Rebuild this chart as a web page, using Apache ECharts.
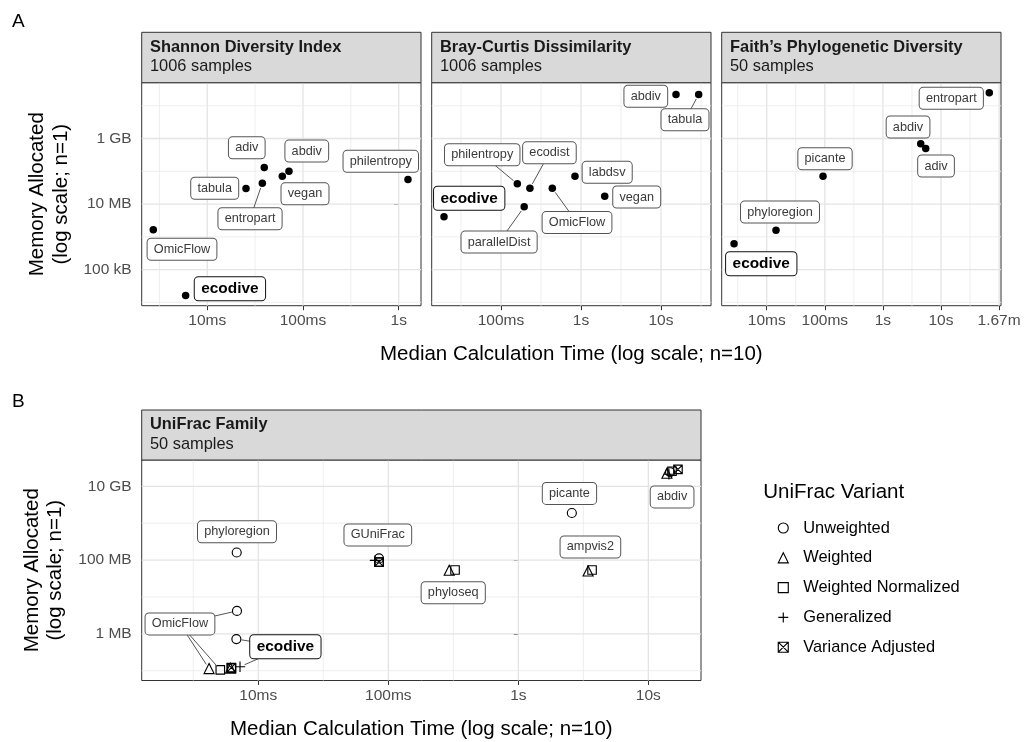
<!DOCTYPE html>
<html><head><meta charset="utf-8">
<script src="https://cdn.jsdelivr.net/npm/echarts@6/dist/echarts.min.js"></script>
<style>html,body{margin:0;padding:0;background:#fff}#c{width:1024px;height:742px}</style>
</head><body><div id="c"></div>
<script>
// ---------------- DATA (time in seconds, memory in bytes) ----------------
const shannonTools    = ['OmicFlow','ecodive','tabula','entropart','adiv','vegan','abdiv','philentropy'];
const shannonTimeSec  = [0.00273, 0.00594, 0.0254, 0.0376, 0.0394, 0.0608, 0.0714, 1.25];
const shannonMemBytes = [1.63e6, 1.61e4, 2.97e7, 4.32e7, 1.30e8, 7.06e7, 1.00e8, 5.60e7];

const brayTools    = ['abdiv','tabula','philentropy','ecodist','OmicFlow','labdsv','vegan','parallelDist','ecodive'];
const brayTimeSec  = [15.4, 29.6, 0.160, 0.230, 0.438, 0.841, 1.98, 0.195, 0.0194];
const brayMemBytes = [2.20e10, 2.20e10, 4.14e7, 3.03e7, 3.03e7, 7.06e7, 1.73e7, 8.20e6, 4.06e6];

const faithTools    = ['entropart','abdiv','adiv','picante','phyloregion','ecodive'];
const faithTimeSec  = [67.8, 4.48, 5.46, 0.0931, 0.01445, 0.00274];
const faithMemBytes = [2.48e10, 6.89e8, 4.95e8, 7.06e7, 1.58e6, 6.10e5];

const uniTools = ['phyloregion','OmicFlow','ecodive','GUniFrac','phyloseq','picante','ampvis2','abdiv'];
const unwTime = [0.00682, 0.00685, 0.00678, 0.0848, null, 2.58, null, 14.7];
const unwMem  = [1.61e8, 4.18e6, 7.21e5, 1.11e8, null, 1.89e9, null, 2.42e10];
const wTime   = [null, 0.00418, 0.00611, null, 0.294, null, 3.44, 13.9];
const wMem    = [null, 1.14e5, 1.17e5, null, 5.30e7, null, 5.07e7, 2.27e10];
const wnTime  = [null, 0.00510, 0.00622, 0.0848, 0.326, null, 3.69, 15.2];
const wnMem   = [null, 1.05e5, 1.17e5, 8.80e7, 5.40e7, null, 5.40e7, 2.57e10];
const genTime = [null, null, 0.00723, 0.0791, null, null, null, 14.4];
const genMem  = [null, null, 1.28e5, 9.80e7, null, null, null, 2.13e10];
const vaTime  = [null, null, 0.00620, 0.0848, null, null, null, 16.9];
const vaMem   = [null, null, 1.21e5, 8.80e7, null, null, null, 2.90e10];

const variantNames = ['Unweighted','Weighted','Weighted Normalized','Generalized','Variance Adjusted'];

const panelTitles    = ['Shannon Diversity Index','Bray-Curtis Dissimilarity','Faith\u2019s Phylogenetic Diversity','UniFrac Family'];
const panelSubtitles = ['1006 samples','1006 samples','50 samples','50 samples'];

const timeTickValues = [0.01, 0.1, 1, 10, 100];
const timeTickLabels = ['10ms','100ms','1s','10s','1.67m'];
const memTickValues  = [1e5, 1e6, 1e7, 1e8, 1e9, 1e10];
const memTickLabels  = ['100 kB','1 MB','10 MB','100 MB','1 GB','10 GB'];

const xTicksPerPanel = [[0.01,0.1,1],[0.1,1,10],[0.01,0.1,1,10,100],[0.01,0.1,1,10]];
const yTicksPerPanel = [[1e5,1e7,1e9],[1e5,1e7,1e9],[1e5,1e7,1e9],[1e6,1e8,1e10]];

// ---------------- LAYOUT ----------------
const FF = '"Liberation Sans", Arial, Helvetica, sans-serif';
const lg = Math.log10;
const grids = [
  {left:141.7, top:82.7, width:279.3, height:223},
  {left:431.7, top:82.7, width:279.3, height:223},
  {left:721.7, top:82.7, width:279.3, height:223},
  {left:141.7, top:460,  width:559.3, height:223.3}
];
const stripTop = [32.3, 32.3, 32.3, 410];
const xRanges = [[-2.685,0.233],[-1.866,1.625],[-2.775,2.033],[-2.897,1.405]];
const yRanges = [[3.897,10.704],[3.897,10.704],[3.897,10.704],[4.734,10.715]];

// label offsets (px from point) and whether a connector segment is drawn
const labelPosShannon = {OmicFlow:[28.7,19.4], ecodive:[44.3,-6.7], tabula:[-31.3,-0.3], entropart:[-12.3,35.5,1],
  adiv:[-17.5,-19.7], vegan:[22.7,17.6], abdiv:[17.8,-20.2], philentropy:[-27.2,-18.2]};
const labelPosBray = {abdiv:[-30.2,1.7], tabula:[-13.7,25.3,1], philentropy:[-35.1,-29.1,1], ecodist:[19.5,-35.4,1],
  OmicFlow:[24.7,34.3,1], labdsv:[32.2,-3.9], vegan:[32,0.8], parallelDist:[-25.1,35.2,1], ecodive:[25.2,-18.6]};
const labelPosFaith = {entropart:[-38,5.5], abdiv:[-12.7,-16.8], adiv:[10.3,17.5], picante:[2,-17.5],
  phyloregion:[4,-18.2], ecodive:[27.2,19.9]};
const labelPosUni = {
  phyloregion:{anchor:0, d:[0.3,-20.6], links:[]},
  OmicFlow:{anchor:0, d:[-57,13], links:[0,1,2]},
  ecodive:{anchor:0, d:[49,7.7], links:[0,3]},
  GUniFrac:{anchor:0, d:[-1.2,-23.5], links:[]},
  phyloseq:{anchor:1, d:[4,22.5], links:[]},
  picante:{anchor:0, d:[-2.4,-19.6], links:[]},
  ampvis2:{anchor:1, d:[2.3,-24], links:[]},
  abdiv:{anchor:0, d:[2,24.7], links:[]}
};

const variantTimes = [unwTime, wTime, wnTime, genTime, vaTime];
const variantMems  = [unwMem, wMem, wnMem, genMem, vaMem];
const variantSymbols = ['circle','triangle','rect','path://M5,0L5,10M0,5L10,5','path://M0,0L10,0L10,10L0,10Z M0,0L10,10 M10,0L0,10'];
const variantSizes = [9, 10, 8.5, 10.5, 8.5];

// ---------------- BUILD ----------------
function fmtTime(v){ const i = timeTickValues.findIndex(t => Math.abs(lg(t)-v) < 1e-6); return i<0?'':timeTickLabels[i]; }
function fmtMem(v){ const i = memTickValues.findIndex(t => Math.abs(lg(t)-v) < 1e-6); return i<0?'':memTickLabels[i]; }

const series = [];

// grid lines (major at ticks, minor midway in log space)
grids.forEach((g, gi) => {
  const items = [];
  const addLines = (ticks, range, orient) => {
    const maj = ticks.map(lg);
    const step = maj.length > 1 ? maj[1]-maj[0] : 1;
    maj.forEach(v => { if (v>=range[0] && v<=range[1]) items.push({v, orient, major:1}); });
    for (let v = maj[0]-step*10 + step/2; v <= range[1]; v += step) {
      if (v >= range[0]) items.push({v, orient, major:0});
    }
  };
  addLines(xTicksPerPanel[gi], xRanges[gi], 0);
  addLines(yTicksPerPanel[gi], yRanges[gi], 1);
  series.push({
    type:'custom', xAxisIndex:gi, yAxisIndex:gi, z:1, silent:true, clip:false,
    data: items.map(it => it.orient===0 ? [it.v, yRanges[gi][0], 0, it.major] : [xRanges[gi][0], it.v, 1, it.major]),
    renderItem: (params, api) => {
      const cs = params.coordSys;
      const p = api.coord([api.value(0), api.value(1)]);
      const major = api.value(3) === 1;
      const shape = api.value(2) === 0
        ? {x1:p[0], y1:cs.y, x2:p[0], y2:cs.y+cs.height}
        : {x1:cs.x, y1:p[1], x2:cs.x+cs.width, y2:p[1]};
      return {type:'line', shape, style:{stroke: major ? '#e4e4e4' : '#ececec', lineWidth: major ? 1.3 : 0.9}};
    }
  });
});

function labelSeries(gi, items) {
  return {
    type:'custom', xAxisIndex:gi, yAxisIndex:gi, z:6, silent:true, clip:false,
    data: items.map(it => it.anchor),
    renderItem: (params, api) => {
      const it = items[params.dataIndex];
      const p = api.coord([api.value(0), api.value(1)]);
      const cx = p[0] + it.d[0], cy = p[1] + it.d[1];
      const children = [];
      it.links.forEach(v => {
        const q = api.coord(v);
        const dx = cx - q[0], dy = cy - q[1], len = Math.hypot(dx, dy) || 1;
        children.push({type:'line', shape:{x1:cx, y1:cy, x2:q[0]+dx/len*5, y2:q[1]+dy/len*5},
          style:{stroke:'#555', lineWidth:1}});
      });
      children.push({type:'text', x:cx, y:cy, style:{
        text: it.text,
        font: it.bold ? 'bold 15.4px ' + FF : '12.7px ' + FF,
        fill: it.bold ? '#000' : '#3a3a3a',
        align:'center', verticalAlign:'middle',
        backgroundColor:'#fff', borderColor: it.bold ? '#111' : '#555', borderWidth: 1,
        borderRadius: 3.5, padding: it.bold ? [4, 6.5] : [4, 6.2]
      }});
      return {type:'group', children};
    }
  };
}

const panelsA = [
  {tools:shannonTools, t:shannonTimeSec, m:shannonMemBytes, pos:labelPosShannon},
  {tools:brayTools, t:brayTimeSec, m:brayMemBytes, pos:labelPosBray},
  {tools:faithTools, t:faithTimeSec, m:faithMemBytes, pos:labelPosFaith}
];
panelsA.forEach((pa, gi) => {
  const pts = pa.tools.map((n, i) => [lg(pa.t[i]), lg(pa.m[i])]);
  series.push({type:'scatter', xAxisIndex:gi, yAxisIndex:gi, z:3, silent:true, symbol:'circle', symbolSize:7.5,
    itemStyle:{color:'#000', opacity:1}, data: pts});
  series.push(labelSeries(gi, pa.tools.map((n, i) => {
    const o = pa.pos[n];
    return {text:n, bold:n==='ecodive', anchor:pts[i], d:[o[0],o[1]], links: o[2] ? [pts[i]] : []};
  })));
});

// UniFrac panel
variantNames.forEach((vn, vi) => {
  const data = [];
  uniTools.forEach((n, i) => {
    if (variantTimes[vi][i] != null) data.push([lg(variantTimes[vi][i]), lg(variantMems[vi][i])]);
  });
  series.push({type:'scatter', name:vn, xAxisIndex:3, yAxisIndex:3, z:3, silent:true,
    symbol:variantSymbols[vi], symbolSize:variantSizes[vi], symbolKeepAspect:true,
    itemStyle:{color:'rgba(0,0,0,0)', borderColor:'#000', borderWidth:1.15, opacity:1}, data});
});
series.push(labelSeries(3, uniTools.map((n, i) => {
  const o = labelPosUni[n];
  const pt = vi => [lg(variantTimes[vi][i]), lg(variantMems[vi][i])];
  return {text:n, bold:n==='ecodive', anchor:pt(o.anchor), d:o.d, links:o.links.map(pt)};
})));

const axisTitleStyle = {fontSize:20.5, color:'#000', fontFamily:FF, lineHeight:23.5};
const xAxis = grids.map((g, gi) => ({
  type:'value', gridIndex:gi, min:xRanges[gi][0], max:xRanges[gi][1],
  axisLine:{show:false}, splitLine:{show:false},
  axisTick:{show:true, customValues:xTicksPerPanel[gi].map(lg), length:4.5, lineStyle:{color:'#333', width:1}},
  axisLabel:{show:true, customValues:xTicksPerPanel[gi].map(lg), formatter:fmtTime, margin:7,
    fontSize:15.5, color:'#4d4d4d', fontFamily:FF},
  name: (gi===1 || gi===3) ? 'Median Calculation Time (log scale; n=10)' : '',
  nameLocation:'middle', nameGap:37, nameTextStyle:axisTitleStyle
}));
const yAxis = grids.map((g, gi) => ({
  type:'value', gridIndex:gi, min:yRanges[gi][0], max:yRanges[gi][1],
  axisLine:{show:false}, splitLine:{show:false},
  axisTick:{show: gi===0 || gi===3, customValues:yTicksPerPanel[gi].map(lg), length:4.5, lineStyle:{color:'#333', width:1}},
  axisLabel:{show: gi===0 || gi===3, customValues:yTicksPerPanel[gi].map(lg), formatter:fmtMem, margin:10,
    fontSize:15.5, color:'#4d4d4d', fontFamily:FF},
  name: (gi===0 || gi===3) ? 'Memory Allocated\n(log scale; n=1)' : '',
  nameLocation:'middle', nameGap:69, nameTextStyle:axisTitleStyle
}));

const graphic = [];
grids.forEach((g, gi) => {
  const st = stripTop[gi];
  graphic.push({type:'rect', silent:true, z:10, shape:{x:g.left, y:st, width:g.width, height:g.top-st},
    style:{fill:'#d9d9d9', stroke:'#333', lineWidth:1}});
  graphic.push({type:'text', silent:true, z:11, x:g.left+8.3, y:st+14.8,
    style:{text:panelTitles[gi], font:'bold 16.4px '+FF, fill:'#1a1a1a', align:'left', verticalAlign:'middle'}});
  graphic.push({type:'text', silent:true, z:11, x:g.left+8.3, y:st+34.2,
    style:{text:panelSubtitles[gi], font:'16.4px '+FF, fill:'#1a1a1a', align:'left', verticalAlign:'middle'}});
});
graphic.push({type:'text', silent:true, x:12, y:21.7, style:{text:'A', font:'19px '+FF, fill:'#000', verticalAlign:'middle'}});
graphic.push({type:'text', silent:true, x:12, y:401.7, style:{text:'B', font:'19px '+FF, fill:'#000', verticalAlign:'middle'}});
graphic.push({type:'text', silent:true, x:763.3, y:492.3, style:{text:'UniFrac Variant', font:'20.5px '+FF, fill:'#000', verticalAlign:'middle'}});

const chart = echarts.init(document.getElementById('c'), null, {renderer:'canvas', devicePixelRatio:1});
chart.setOption({
  animation:false,
  backgroundColor:'#fff',
  grid: grids.map(g => ({left:g.left, top:g.top, width:g.width, height:g.height, show:true,
    borderColor:'#333', borderWidth:1, backgroundColor:'#fff', containLabel:false})),
  xAxis, yAxis, series, graphic,
  legend:{
    data: variantNames, orient:'vertical', left:772.7, top:515, itemWidth:10, itemHeight:10, itemGap:13.8,
    selectedMode:false,
    itemStyle:{color:'rgba(0,0,0,0)', borderColor:'#000', borderWidth:1.15, opacity:1},
    textStyle:{fontSize:16.4, color:'#000', fontFamily:FF, padding:[0,0,0,10]}
  }
});
</script></body></html>
